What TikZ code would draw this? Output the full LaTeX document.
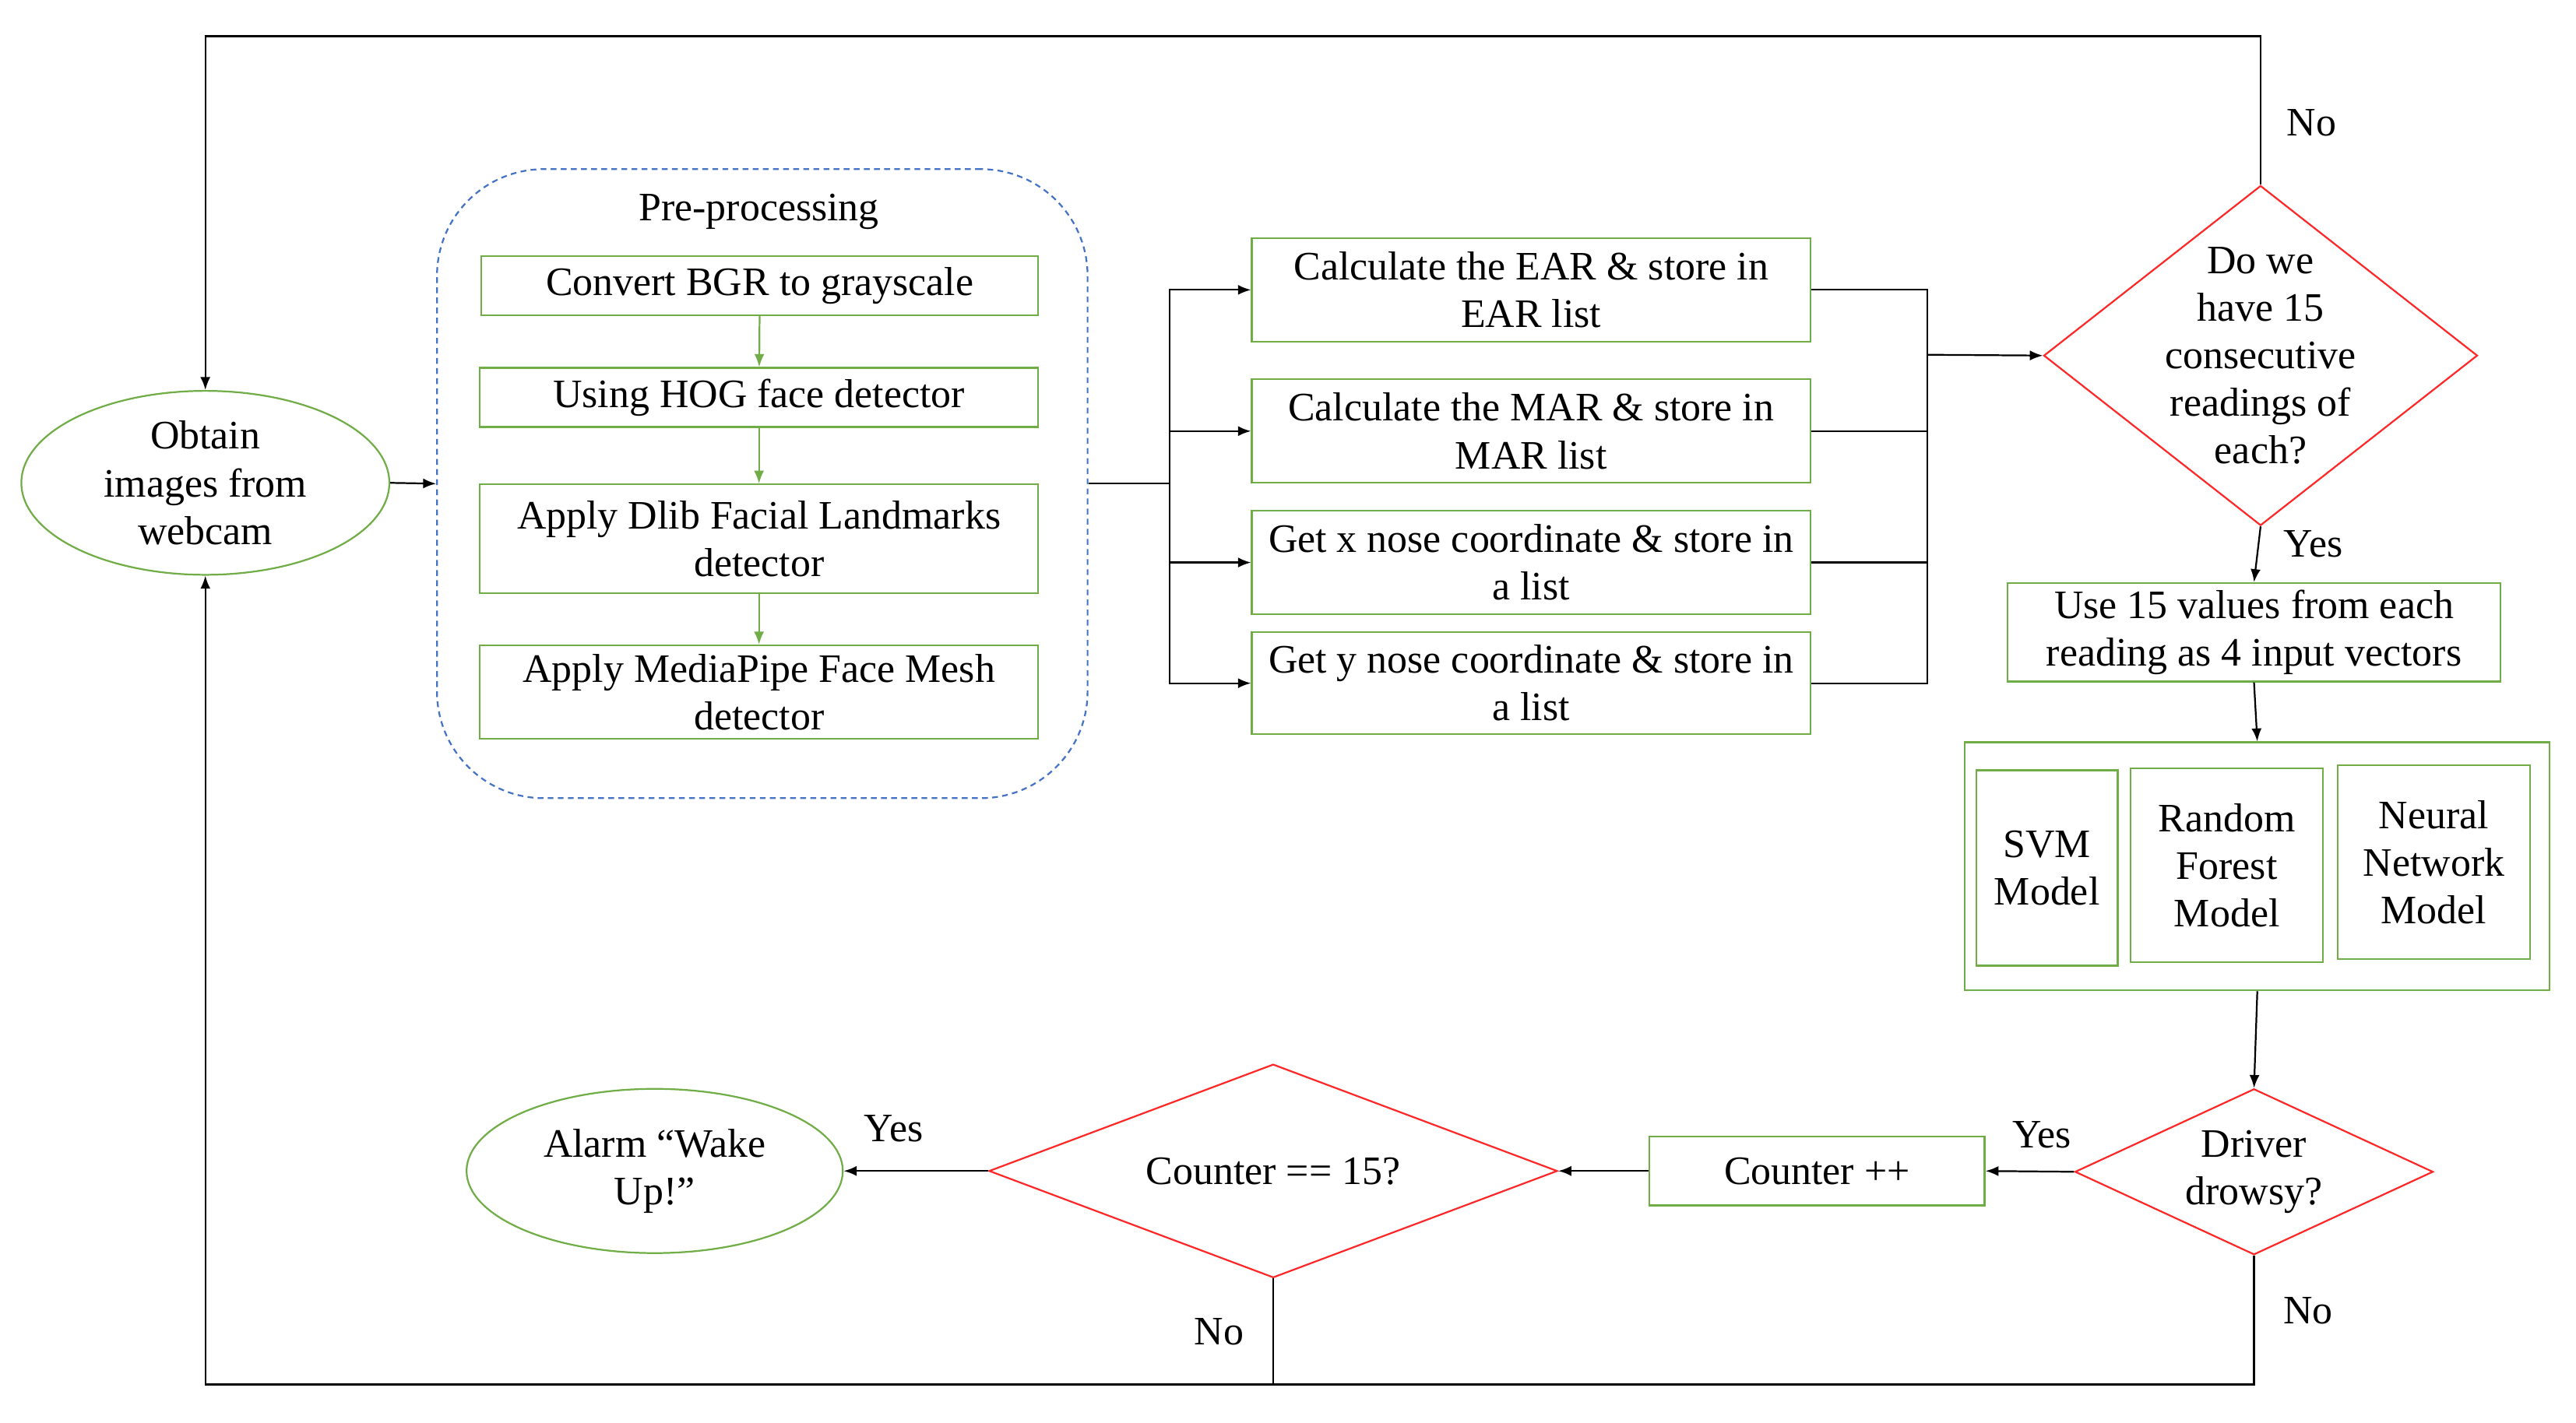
\documentclass[tikz,border=0pt]{standalone}
\usepackage{fontspec}
\setmainfont{Liberation Serif}
\usetikzlibrary{shapes.geometric,arrows.meta}
\definecolor{boxgreen}{RGB}{112,173,71}
\definecolor{dred}{RGB}{255,40,40}
\definecolor{dblue}{RGB}{68,114,196}
\tikzset{
  wh/.style 2 args={minimum width=#1*0.02cm, minimum height=#2*0.02cm},
  gbox/.style={draw=boxgreen, line width=0.6pt, rectangle, inner sep=0pt, align=center, font=\fontsize{14}{16.5}\selectfont},
  gell/.style={draw=boxgreen, line width=0.6pt, ellipse, inner sep=0pt, align=center, font=\fontsize{14}{16.5}\selectfont},
  rdia/.style={draw=dred, line width=0.6pt, diamond, inner sep=0pt},
  dtext/.style={inner sep=0pt, align=center, font=\fontsize{14}{16.5}\selectfont},
  lbl/.style={inner sep=0pt, font=\fontsize{14}{16.5}\selectfont},
  conn/.style={draw=black, line width=0.6pt},
  arr/.style={conn, -{Latex[length=4.5pt,width=3.5pt]}},
  garr/.style={draw=boxgreen, line width=0.6pt, -{Latex[length=4.5pt,width=3.5pt]}},
}
\begin{document}
\begin{tikzpicture}[x=0.02cm, y=-0.02cm]
\useasboundingbox (0,0) rectangle (1568,866);
% nodes
\node[gell, wh={224}{112}] (obtain) at (125,294) {Obtain\\images from\\webcam};
\node[draw=dblue, dashed, dash pattern=on 2pt off 1.5pt, line width=0.6pt, rounded corners=1.3cm, wh={396}{383}, inner sep=0pt] (pre) at (464,294.5) {};
\node[lbl] (prelabel) at (462,129) {Pre-processing};
\node[gbox, wh={339}{36}] (convert) at (462.5,174) {Convert BGR to grayscale};
\node[gbox, wh={340}{36}] (hog) at (462,242) {Using HOG face detector};
\node[gbox, wh={340}{66}] (dlib) at (462,328) {Apply Dlib Facial Landmarks\\detector};
\node[gbox, wh={340}{57}] (mp) at (462,421.5) {Apply MediaPipe Face Mesh\\detector};
\node[gbox, wh={340}{63}] (ear) at (932,176.5) {Calculate the EAR \& store in\\EAR list};
\node[gbox, wh={340}{63}] (mar) at (932,262.5) {Calculate the MAR \& store in\\MAR list};
\node[gbox, wh={340}{63}] (xn) at (932,342.5) {Get x nose coordinate \& store in\\a list};
\node[gbox, wh={340}{62}] (yn) at (932,416) {Get y nose coordinate \& store in\\a list};
\node[rdia, wh={264}{207}] (d1) at (1376,216.5) {};
\node[dtext] (d1t) at (1376,216.5) {Do we\\have 15\\consecutive\\readings of\\each?};
\node[gbox, wh={300}{60}] (use) at (1372,385) {Use 15 values from each\\reading as 4 input vectors};
\node[gbox, wh={356}{151}] (models) at (1374,527.5) {};
\node[gbox, wh={86}{119}] (svm) at (1246,528.5) {SVM\\Model};
\node[gbox, wh={117}{118}] (rf) at (1355.5,527) {Random\\Forest\\Model};
\node[gbox, wh={117}{118}] (nn) at (1481.5,525) {Neural\\Network\\Model};
\node[rdia, wh={218}{101}] (driver) at (1372,713.5) {};
\node[dtext] (drivert) at (1372,713.5) {Driver\\drowsy?};
\node[gbox, wh={204}{42}] (counter) at (1106,713) {Counter ++};
\node[rdia, wh={346}{130}] (d2) at (775,713) {};
\node[dtext] (d2t) at (775,713) {Counter == 15?};
\node[gell, wh={229}{100}] (alarm) at (398.5,713) {Alarm ``Wake\\Up!''};
% labels
\node[lbl] (no1) at (1407,75) {No};
\node[lbl] (yes1) at (1408,331) {Yes};
\node[lbl] (yes2) at (1243,691) {Yes};
\node[lbl] (yes3) at (544,687) {Yes};
\node[lbl] (no2) at (742,811) {No};
\node[lbl] (no3) at (1405,798) {No};
% coordinates
\coordinate (sp) at (712,294.5);
\coordinate (jn) at (1173,216);
\coordinate (topR) at (1376,22);
\coordinate (botR) at (1372,843);
\coordinate (botM) at (775,843);
% connectors
\draw[arr] (obtain.east) -- (pre.west);
\draw[garr] (convert) -- (hog);
\draw[garr] (hog) -- (dlib);
\draw[garr] (dlib) -- (mp);
\draw[conn] (pre.east) -- (sp);
\draw[arr] (sp) |- (ear.west);
\draw[arr] (sp) |- (mar.west);
\draw[arr] (sp) |- (xn.west);
\draw[arr] (sp) |- (yn.west);
\draw[conn] (ear.east) -| (jn);
\draw[conn] (mar.east) -| (jn);
\draw[conn] (xn.east) -| (jn);
\draw[conn] (yn.east) -| (jn);
\draw[arr] (jn) -- (d1.west);
\draw[arr] (d1.north) -- (topR) -| (obtain.north);
\draw[arr] (d1.south) -- (use.north);
\draw[arr] (use.south) -- (models.north);
\draw[arr] (models.south) -- (driver.north);
\draw[arr] (driver.west) -- (counter.east);
\draw[arr] (counter.west) -- (d2.east);
\draw[arr] (d2.west) -- (alarm.east);
\draw[arr] (driver.south) -- (botR) -| (obtain.south);
\draw[conn] (d2.south) -- (botM);
\end{tikzpicture}
\end{document}
